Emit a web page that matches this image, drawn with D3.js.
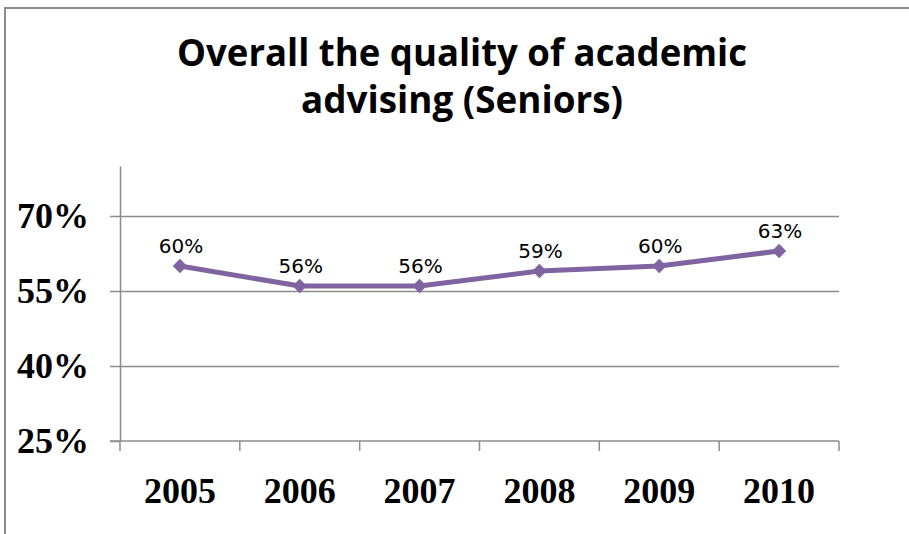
<!DOCTYPE html>
<html>
<head>
<meta charset="utf-8">
<script src="https://cdn.jsdelivr.net/npm/d3@7"></script>
<style>
  body { margin: 0; background: #fff; }
  svg { display: block; }
  .chart-title { font-family: 'Open Sans', sans-serif; font-weight: bold; font-size: 38px; fill: #000; }
  .axis text { font-family: 'Liberation Serif', 'Times New Roman', serif; font-weight: bold; font-size: 36px; fill: #000; }
  .axis path, .axis line { stroke: #8c8c8c; stroke-width: 1.5; }
  .grid line { stroke: #8c8c8c; stroke-width: 1.5; }
  .grid path { display: none; }
  .data-label { font-family: 'DejaVu Sans', sans-serif; font-size: 20px; fill: #000; }
</style>
</head>
<body>
<svg></svg>
<script>
const years = ['2005', '2006', '2007', '2008', '2009', '2010']
const values = [60, 56, 56, 59, 60, 63]
const yTicks = [25, 40, 55, 70]
const titleLines = ['Overall the quality of academic', 'advising (Seniors)']

const app = () => {
  // Set chart dimensions
  const w = 909
  const h = 534
  const left = 120
  const right = 839
  const top = 166
  const bottom = 441

  const svg = d3.select('svg')
    .attr('width', w)
    .attr('height', h)

  // outer frame (only top and left edges are visible)
  svg.append('path')
    .attr('d', `M5,${h} V8 H${w}`)
    .attr('fill', 'none')
    .attr('stroke', '#8c8c8c')
    .attr('stroke-width', 2)

  // title
  const titleWidths = [570, 322]
  svg.selectAll('.chart-title')
    .data(titleLines)
    .enter()
    .append('text')
    .attr('class', 'chart-title')
    .attr('text-anchor', 'middle')
    .attr('x', 462)
    .attr('y', (d, i) => 66 + i * 47)
    .attr('textLength', (d, i) => titleWidths[i])
    .attr('lengthAdjust', 'spacingAndGlyphs')
    .text(d => d)

  // scales
  const xScale = d3.scaleBand()
    .domain(years)
    .range([left, right])

  const yScale = d3.scaleLinear()
    .domain([25, 80])
    .range([bottom, top])

  // gridlines
  svg.append('g')
    .attr('class', 'grid')
    .attr('transform', `translate(${left}, 0)`)
    .call(d3.axisLeft(yScale).tickValues(yTicks.slice(1)).tickSize(-(right - left)).tickFormat(''))

  // y axis
  svg.append('g')
    .attr('class', 'axis')
    .attr('transform', `translate(${left}, 0)`)
    .call(d3.axisLeft(yScale)
      .tickValues(yTicks)
      .tickSize(10)
      .tickSizeOuter(0)
      .tickPadding(21)
      .tickFormat(d => d + '%'))

  // x axis
  const xAxisG = svg.append('g')
    .attr('class', 'axis')
    .attr('transform', `translate(0, ${bottom})`)
    .call(d3.axisBottom(xScale).tickSize(0).tickSizeOuter(0).tickPadding(36))

  xAxisG.select('.domain').attr('d', `M${left - 10},0H${right}`)

  // tick marks at category boundaries
  const bounds = years.map(d => xScale(d)).concat([xScale.range()[1]])
  xAxisG.selectAll('.bound')
    .data(bounds)
    .enter()
    .append('line')
    .attr('class', 'bound')
    .attr('x1', d => d)
    .attr('x2', d => d)
    .attr('y1', 0)
    .attr('y2', 10)

  // line
  const cx = d => xScale(d) + xScale.bandwidth() / 2
  const line = d3.line()
    .x((d, i) => cx(years[i]))
    .y(d => yScale(d))

  svg.append('path')
    .datum(values)
    .attr('d', line)
    .attr('fill', 'none')
    .attr('stroke', '#8064a2')
    .attr('stroke-width', 5)
    .attr('stroke-linejoin', 'round')

  // diamond markers
  svg.selectAll('.marker')
    .data(values)
    .enter()
    .append('path')
    .attr('class', 'marker')
    .attr('d', d3.symbol(d3.symbolDiamond2, 130))
    .attr('transform', (d, i) => `translate(${cx(years[i])}, ${yScale(d)})`)
    .attr('fill', '#8064a2')

  // data labels
  svg.selectAll('.data-label')
    .data(values)
    .enter()
    .append('text')
    .attr('class', 'data-label')
    .attr('text-anchor', 'middle')
    .attr('x', (d, i) => cx(years[i]) + 1)
    .attr('y', d => yScale(d) - 13)
    .text(d => d + '%')
}

app()
</script>
</body>
</html>
